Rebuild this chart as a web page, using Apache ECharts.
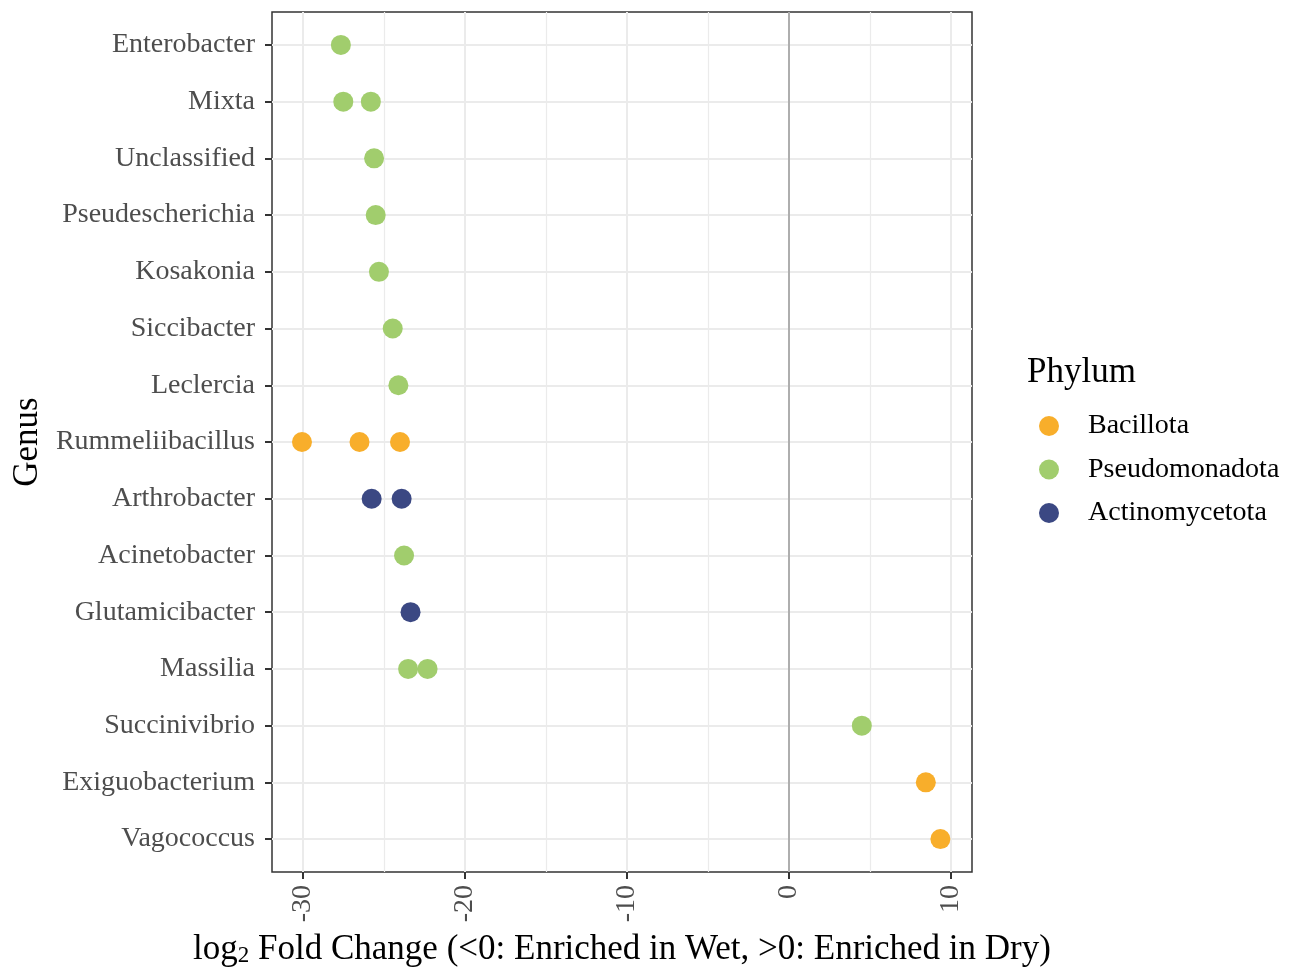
<!DOCTYPE html>
<html>
<head>
<meta charset="utf-8">
<title>Genus log2 fold change</title>
<script src="https://cdn.jsdelivr.net/npm/echarts@6/dist/echarts.min.js"></script>
<style>
  html, body { margin: 0; padding: 0; background: #ffffff; }
  #chart { width: 1291px; height: 968px; }
</style>
</head>
<body>
<div id="chart"></div>
<script>
// Genera, top to bottom
const genera = [
  'Enterobacter', 'Mixta', 'Unclassified', 'Pseudescherichia', 'Kosakonia',
  'Siccibacter', 'Leclercia', 'Rummeliibacillus', 'Arthrobacter', 'Acinetobacter',
  'Glutamicibacter', 'Massilia', 'Succinivibrio', 'Exiguobacterium', 'Vagococcus'
];

// log2 fold change per phylum: [genus, value]
const bacillota = [
  ['Rummeliibacillus', -30.05],
  ['Rummeliibacillus', -26.5],
  ['Rummeliibacillus', -24.0],
  ['Exiguobacterium', 8.45],
  ['Vagococcus', 9.35]
];
const pseudomonadota = [
  ['Enterobacter', -27.65],
  ['Mixta', -27.5],
  ['Mixta', -25.8],
  ['Unclassified', -25.6],
  ['Pseudescherichia', -25.5],
  ['Kosakonia', -25.3],
  ['Siccibacter', -24.45],
  ['Leclercia', -24.1],
  ['Acinetobacter', -23.75],
  ['Massilia', -23.5],
  ['Massilia', -22.3],
  ['Succinivibrio', 4.5]
];
const actinomycetota = [
  ['Arthrobacter', -25.75],
  ['Arthrobacter', -23.9],
  ['Glutamicibacter', -23.35]
];

const phyla = ['Bacillota', 'Pseudomonadota', 'Actinomycetota'];
const phylumColors = ['#F8AE2B', '#A1CD6D', '#3B4883'];

const xTicks = [-30, -20, -10, 0, 10];
const xMinor = [-25, -15, -5, 5];
const genusIdx = genera.map((g, i) => i);

const serif = '"Liberation Serif", "DejaVu Serif", serif';

function toPoints(rows) {
  return rows.map(r => [r[1], genera.indexOf(r[0])]);
}

const groups = [bacillota, pseudomonadota, actinomycetota];

const series = groups.map((rows, k) => ({
  name: phyla[k],
  type: 'scatter',
  symbol: 'circle',
  symbolSize: 20,
  itemStyle: { color: phylumColors[k], opacity: 1 },
  data: toPoints(rows),
  z: 5
}));

// minor vertical grid lines and the zero reference line
series.push({
  name: 'guides',
  type: 'scatter',
  data: [],
  silent: true,
  markLine: {
    silent: true,
    symbol: ['none', 'none'],
    label: { show: false },
    animation: false,
    data: xMinor.map(v => ({ xAxis: v, lineStyle: { color: '#ebebeb', width: 1.2, type: 'solid' } }))
      .concat([{ xAxis: 0, lineStyle: { color: '#9a9a9a', width: 1.5, type: 'solid' } }])
  },
  z: 1
});

const chart = echarts.init(document.getElementById('chart'), null, { renderer: 'canvas' });

const pad = 0.58;

chart.setOption({
  animation: false,
  backgroundColor: '#ffffff',
  textStyle: { fontFamily: serif },
  title: {
    text: 'Phylum',
    left: 1022,
    top: 350,
    textStyle: { fontFamily: serif, fontSize: 35, fontWeight: 'normal', color: '#000000' }
  },
  legend: {
    data: phyla,
    orient: 'vertical',
    left: 1034,
    top: 407,
    icon: 'circle',
    itemWidth: 20,
    itemHeight: 20,
    itemGap: 15.5,
    textStyle: { fontFamily: serif, fontSize: 28, color: '#000000', padding: [0, 0, 0, 24] },
    selectedMode: false
  },
  grid: {
    left: 272,
    top: 12,
    width: 700,
    height: 860,
    show: true,
    borderColor: '#333333',
    borderWidth: 1.5,
    backgroundColor: 'transparent',
    containLabel: false,
    outerBoundsMode: 'none'
  },
  xAxis: {
    type: 'value',
    min: -31.9,
    max: 11.3,
    axisLine: { show: false, onZero: false },
    axisTick: { show: true, length: 7, lineStyle: { color: '#333333', width: 2 }, customValues: xTicks },
    axisLabel: {
      customValues: xTicks,
      rotate: 90,
      margin: 13,
      fontFamily: serif,
      fontSize: 28,
      color: '#4d4d4d',
      formatter: v => String(v)
    },
    splitLine: { show: true, lineStyle: { color: '#ebebeb', width: 2 } },
    name: '{t|log}{s|2}{t| Fold Change (<0: Enriched in Wet, >0: Enriched in Dry)}',
    nameLocation: 'middle',
    nameGap: 55,
    nameTextStyle: {
      rich: {
        t: { fontFamily: serif, fontSize: 35, color: '#000000', lineHeight: 40, verticalAlign: 'bottom' },
        s: { fontFamily: serif, fontSize: 23, color: '#000000', lineHeight: 20, verticalAlign: 'bottom' }
      }
    }
  },
  yAxis: {
    type: 'value',
    inverse: true,
    min: -pad,
    max: genera.length - 1 + pad,
    axisLine: { show: false, onZero: false },
    axisTick: { show: true, length: 7, lineStyle: { color: '#333333', width: 2 }, customValues: genusIdx },
    axisLabel: {
      customValues: genusIdx,
      margin: 17,
      fontFamily: serif,
      fontSize: 28,
      color: '#4d4d4d',
      formatter: v => genera[Math.round(v)]
    },
    splitLine: { show: true, lineStyle: { color: '#ebebeb', width: 2 } },
    name: 'Genus',
    nameLocation: 'middle',
    nameGap: 227,
    nameTextStyle: { fontFamily: serif, fontSize: 35, color: '#000000' }
  },
  series: series
});
</script>
</body>
</html>
